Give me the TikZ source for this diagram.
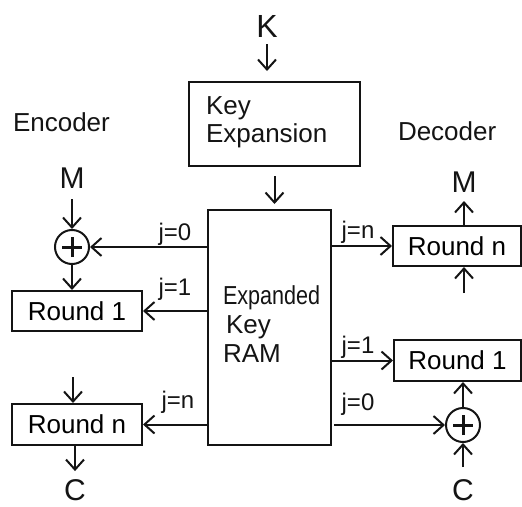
\documentclass[tikz,border=0pt]{standalone}
\usepackage{fontspec}
\setmainfont{Liberation Sans}
\usepackage{tikz}
\usetikzlibrary{arrows.meta,positioning,calc}
\definecolor{ink}{HTML}{141414}
\tikzset{
  >={Straight Barb[length=10pt,width=18pt]},
  every picture/.style={line width=2pt,draw=ink},
  bx/.style={draw=ink,fill=white,line width=2pt,inner sep=0pt,font=\fontsize{26}{28}\selectfont},
  xr/.style={circle,draw=ink,line width=2pt,minimum size=34pt,inner sep=0pt,
    path picture={\draw[line width=3pt] ([xshift=-10pt]path picture bounding box.center) -- ([xshift=10pt]path picture bounding box.center);
                  \draw[line width=3pt] ([yshift=-10pt]path picture bounding box.center) -- ([yshift=10pt]path picture bounding box.center);}},
  arr/.style={->,draw=ink,line width=2pt},
  lab/.style={inner sep=0pt,font=\fontsize{30}{32}\selectfont,text=ink,anchor=base},
  jl/.style={inner sep=0pt,font=\fontsize{24}{26}\selectfont,text=ink,anchor=base},
  ttl/.style={inner sep=0pt,font=\fontsize{26}{28}\selectfont,text=ink,anchor=base west},
}

\begin{document}
\begin{tikzpicture}[x=1pt,y=-1pt]
  \useasboundingbox (0,0) rectangle (522,506);
  % key expansion and RAM
  \node[lab,font=\fontsize{32}{34}\selectfont] (k) at (267,37) {K};
  \node[bx,minimum width=171,minimum height=84] (keyexp) at (274.5,124) {};
  \node[ttl,anchor=west,align=left] (keytxt) at (205,122.5) {Key\\Expansion};
  \node[bx,minimum width=123,minimum height=235] (ram) at (269.5,327.5) {};
  \node[ttl,anchor=west,align=left,font=\fontsize{26}{29}\selectfont] (ramtxt) at (222,324) {\scalebox{0.83}[1]{Expanded}\\\hspace{3pt}Key\\RAM};
  \draw[arr,shorten <=6pt,shorten >=10pt] (k.south) -- (k.south |- keyexp.north);
  \draw[arr,shorten <=9pt,shorten >=5pt] (keyexp.south) -- (keyexp.south |- ram.north);
  % encoder
  \node[ttl] (enc) at (12,131) {Encoder};
  \node[lab] (menc) at (72,188) {M};
  \node[xr] (xenc) at (72,247) {};
  \node[bx,minimum width=130,minimum height=40] (r1enc) at (77,311) {Round 1};
  \node[bx,minimum width=130,minimum height=41] (rnenc) at (77,424.5) {Round n};
  \coordinate (inenc) at (73,377);
  \node[lab] (cenc) at (75,500) {C};
  \draw[arr,shorten <=10pt] (menc.south) -- (xenc.north);
  \draw[arr] (xenc.south) -- (xenc.south |- r1enc.north);
  \draw[arr] (ram.west |- xenc) -- (xenc.east);
  \draw[arr] (ram.west |- r1enc) -- (r1enc.east);
  \draw[arr] (inenc) -- (inenc |- rnenc.north);
  \draw[arr] (ram.west |- rnenc) -- (rnenc.east);
  \draw[arr,shorten >=7pt] (rnenc.south -| cenc) -- (cenc.north);
  \node[jl] (j0enc) at (175,240) {j=0};
  \node[jl] (j1enc) at (175,295) {j=1};
  \node[jl] (jnenc) at (178,408) {j=n};
  % decoder
  \node[ttl] (dec) at (397,140) {Decoder};
  \node[bx,minimum width=128,minimum height=40] (rndec) at (457,246) {Round n};
  \node[lab] (mdec) at (464,192) {M};
  \coordinate (indec) at (464,293);
  \node[bx,minimum width=127,minimum height=41] (r1dec) at (457.5,360.5) {Round 1};
  \node[xr] (xdec) at (463,425) {};
  \node[lab] (cdec) at (463,500) {C};
  \draw[arr] (ram.east |- rndec) -- (rndec.west);
  \draw[arr,shorten >=8pt] (rndec.north -| mdec) -- (mdec.south);
  \draw[arr] (indec) -- (indec |- rndec.south);
  \draw[arr] (ram.east |- r1dec) -- (r1dec.west);
  \draw[arr] (xdec.north) -- (xdec.north |- r1dec.south);
  \draw[arr,shorten <=2pt] (ram.east |- xdec) -- (xdec.west);
  \draw[arr,shorten <=11pt] (cdec.north) -- (xdec.south);
  \node[jl] (jndec) at (358,238) {j=n};
  \node[jl] (j1dec) at (358,353) {j=1};
  \node[jl] (j0dec) at (358,410) {j=0};
\end{tikzpicture}
\end{document}
